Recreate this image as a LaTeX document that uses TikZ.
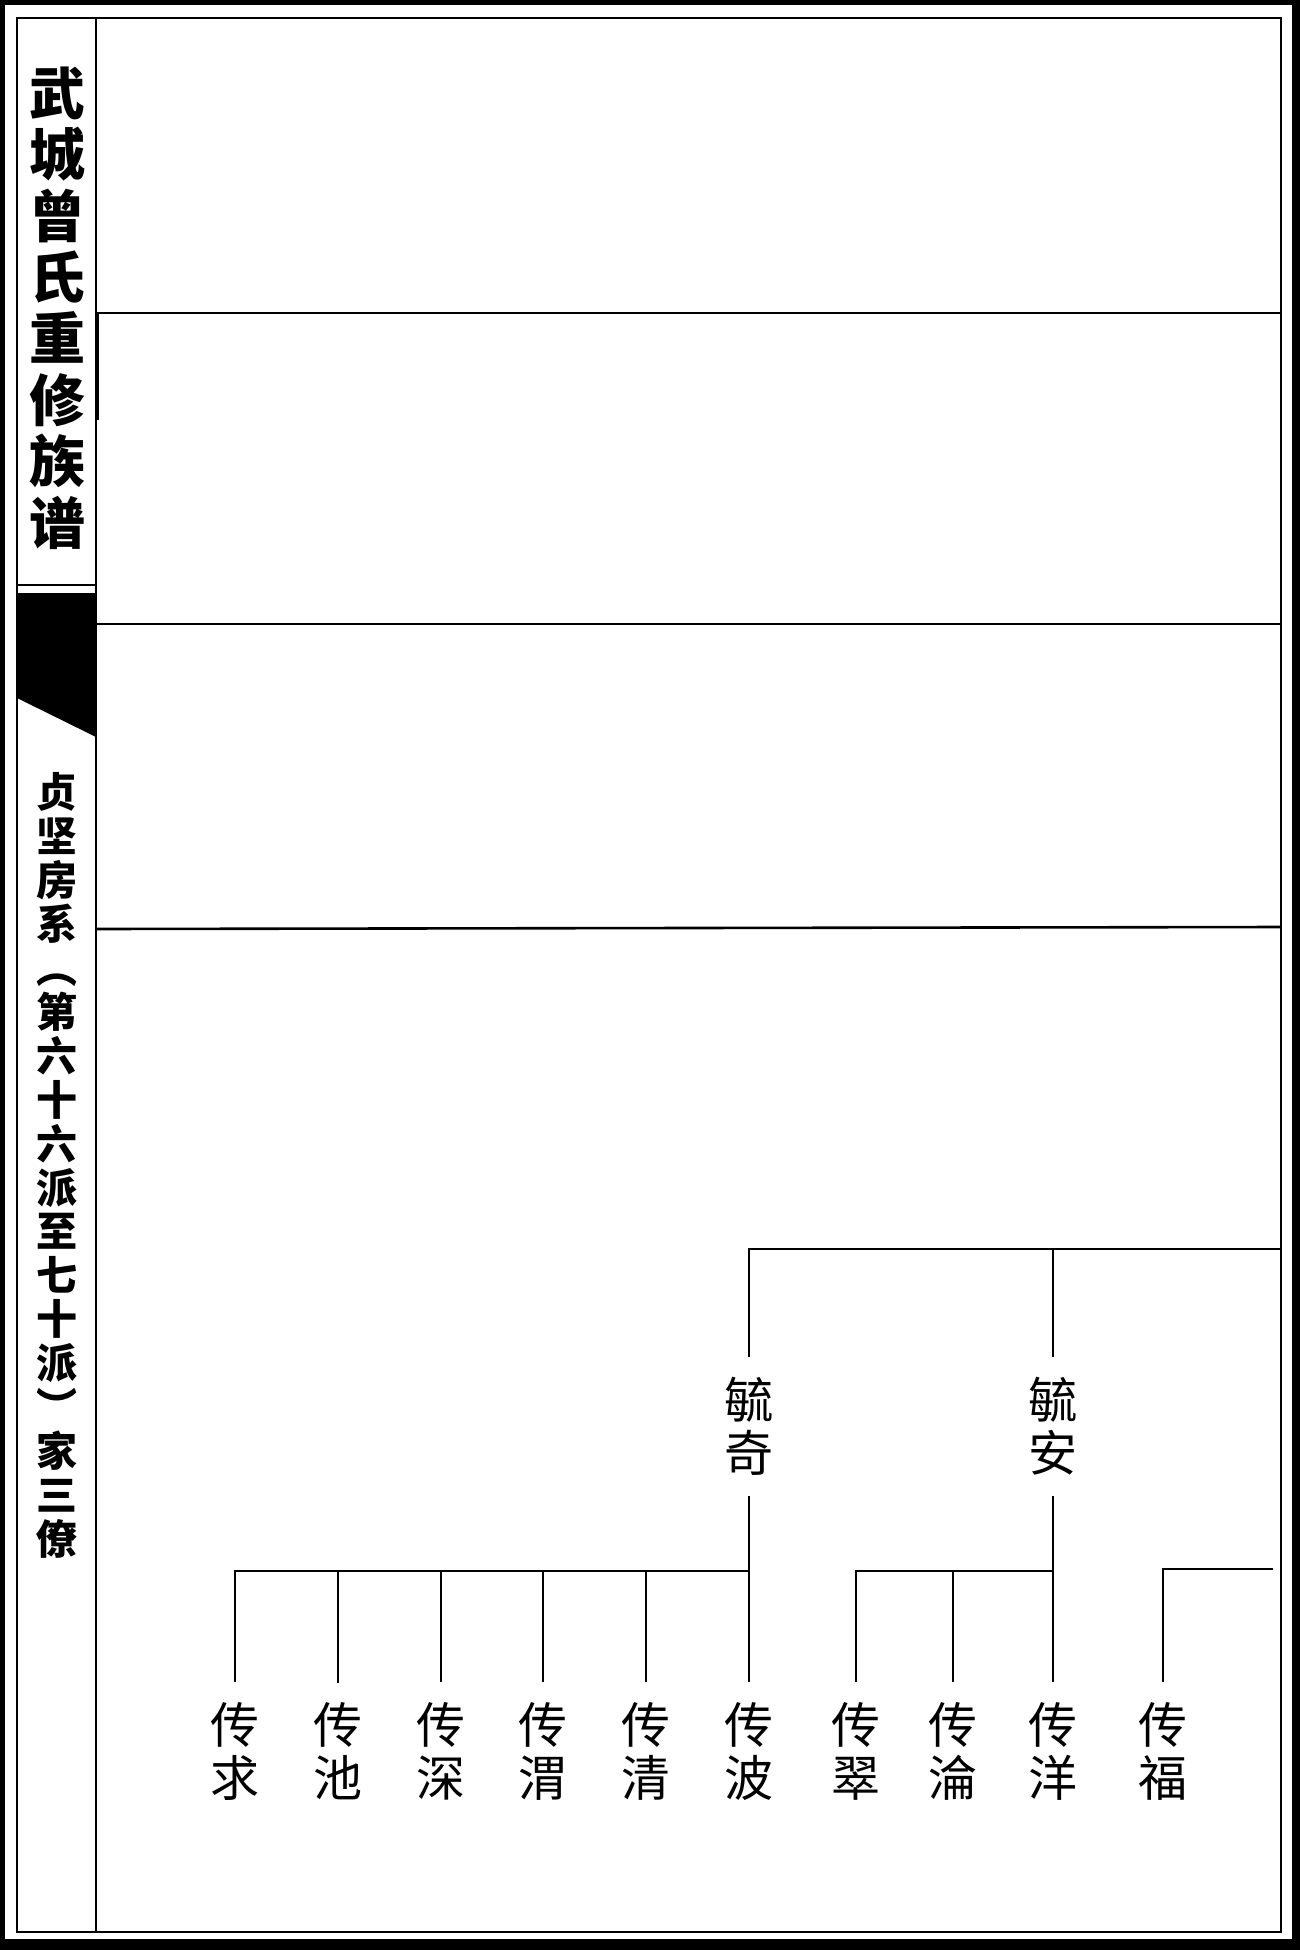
\documentclass[tikz,border=0pt]{standalone}
\usepackage{fontspec}
\newfontfamily\cjk{Noto Sans CJK SC}
\usetikzlibrary{positioning}

\begin{document}
\begin{tikzpicture}[x=1pt, y=-1pt, line width=2.6pt,
  every node/.style={inner sep=0pt},
  person/.style={align=center, inner ysep=19pt, font=\cjk\fontsize{49}{53}\selectfont},
  titletext/.style={align=center, font=\cjk\bfseries\fontsize{56}{61.4}\selectfont},
  subtext/.style={align=center, font=\cjk\bfseries\fontsize{41}{43.9}\selectfont}]
\useasboundingbox (0,0) rectangle (1300,1950);
% page edge and frame
\fill[black] (0,0) rectangle (1300,1950);
\fill[white] (5,5) rectangle (1292,1939);
\draw[line width=2pt] (17,18) rectangle (1281,1932);
\draw[line width=2pt] (96,18) -- (96,1932);
\draw[line width=4pt] (97,313) -- (97,420);
% side column
\node[titletext] (title) at (57,308) {武\\城\\曾\\氏\\重\\修\\族\\谱};
\draw[line width=2pt] (17,585) -- (96,585);
\fill (17,593) -- (96,593) -- (96,737) -- (17,698) -- cycle;
\node[subtext] (sub) at (57,1165.5) {贞\\坚\\房\\系\\︵\\第\\六\\十\\六\\派\\至\\七\\十\\派\\︶\\家\\三\\僚};
% generation rows
\draw (96,313) -- (1281,313);
\draw (96,624) -- (1281,624);
\draw (96,929) -- (1281,927);
% names
\node[person] (yuqi) at (749,1426.5) {毓\\奇};
\node[person] (yuan) at (1053,1426.5) {毓\\安};
\node[person] (chuanqiu) at (235,1751.5) {传\\求};
\node[person] (chuanchi) at (338,1751.5) {传\\池};
\node[person] (chuanshen) at (441,1751.5) {传\\深};
\node[person] (chuanwei) at (543,1751.5) {传\\渭};
\node[person] (chuanqing) at (646,1751.5) {传\\清};
\node[person] (chuanbo) at (749,1751.5) {传\\波};
\node[person] (chuancui) at (856,1751.5) {传\\翠};
\node[person] (chuanlun) at (953,1751.5) {传\\淪};
\node[person] (chuanyang) at (1053,1751.5) {传\\洋};
\node[person] (chuanfu) at (1163,1751.5) {传\\福};
% branch lines
\coordinate (topend) at (1281,1249);
\coordinate (barA) at (749,1571);
\coordinate (barB) at (1053,1571);
\coordinate (barC) at (1273,1569);
\draw (yuqi.north) |- (topend);
\draw (yuan.north) -- (yuan.north |- topend);
\draw (yuqi.south) -- (chuanbo.north);
\draw (yuan.south) -- (chuanyang.north);
\draw (chuanqiu.north) |- (barA);
\draw (chuanchi.north) |- (barA);
\draw (chuanshen.north) |- (barA);
\draw (chuanwei.north) |- (barA);
\draw (chuanqing.north) |- (barA);
\draw (chuancui.north) |- (barB);
\draw (chuanlun.north) |- (barB);
\draw (chuanfu.north) |- (barC);
\end{tikzpicture}
\end{document}
